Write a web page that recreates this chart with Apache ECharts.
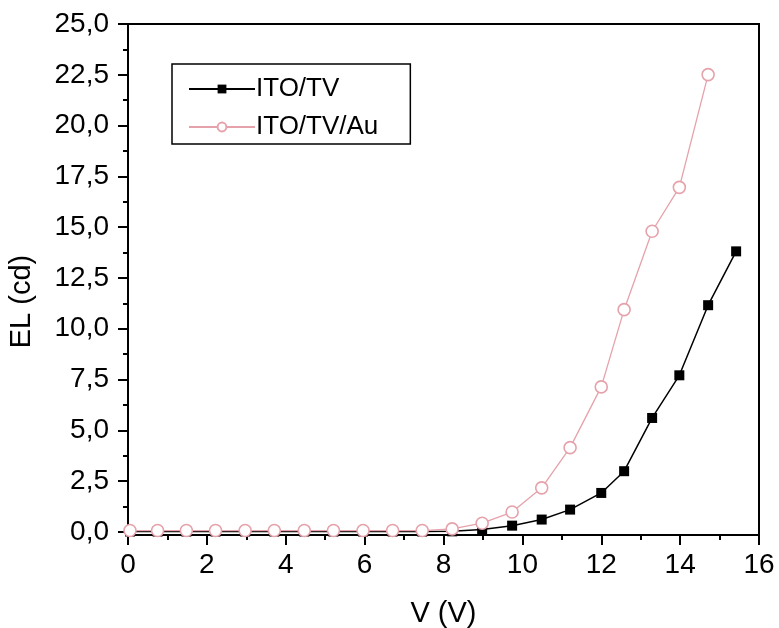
<!DOCTYPE html>
<html>
<head>
<meta charset="utf-8">
<script src="https://cdn.jsdelivr.net/npm/echarts@6/dist/echarts.min.js"></script>
<style>html,body{margin:0;padding:0;background:#fff}#c{width:779px;height:628px}</style>
</head>
<body>
<div id="c"></div>
<script>
// Data
const seriesNames = ['ITO/TV', 'ITO/TV/Au'];
const vTV = [0.05, 0.75, 1.48, 2.22, 2.97, 3.71, 4.47, 5.21, 5.96, 6.71, 7.46, 8.22, 8.98, 9.74, 10.49, 11.21, 12.0, 12.58, 13.29, 13.98, 14.71, 15.42];
const elTV = [0.02, 0.02, 0.02, 0.02, 0.02, 0.02, 0.02, 0.02, 0.02, 0.02, 0.02, 0.03, 0.12, 0.31, 0.61, 1.10, 1.92, 2.99, 5.61, 7.71, 11.16, 13.81];
const vAu = [0.05, 0.75, 1.48, 2.22, 2.97, 3.71, 4.47, 5.21, 5.96, 6.71, 7.46, 8.22, 8.98, 9.74, 10.49, 11.21, 12.0, 12.58, 13.29, 13.98, 14.71];
const elAu = [0.07, 0.07, 0.07, 0.07, 0.07, 0.07, 0.07, 0.07, 0.07, 0.07, 0.07, 0.15, 0.43, 0.98, 2.17, 4.15, 7.14, 10.94, 14.80, 16.96, 22.51];
const yMajorTicks = [0, 2.5, 5, 7.5, 10, 12.5, 15, 17.5, 20, 22.5, 25];
const yMinorTicks = [1.25, 3.75, 6.25, 8.75, 11.25, 13.75, 16.25, 18.75, 21.25, 23.75];
const xTitle = 'V (V)';
const yTitle = 'EL (cd)';

const FONT = "'Liberation Sans', Arial, sans-serif";
const pink = '#e6a2ab';

const pairs = (xs, ys) => xs.map((x, i) => [x, ys[i]]);

const chart = echarts.init(document.getElementById('c'));
chart.setOption({
  backgroundColor: '#fff',
  animation: false,
  grid: {
    left: 128, right: 20, top: 24, bottom: 93,
    containLabel: false,
    outerBoundsMode: 'none',
    show: true, borderColor: '#000', borderWidth: 2, backgroundColor: 'transparent'
  },
  legend: {
    left: 172, top: 64,
    orient: 'vertical',
    borderColor: '#000', borderWidth: 1.5,
    padding: [12, 32, 4, 16],
    itemGap: 12,
    itemWidth: 66, itemHeight: 11,
    textStyle: { fontFamily: FONT, fontSize: 26, color: '#000', padding: [0, 0, 0, -4] },
    data: seriesNames
  },
  xAxis: {
    type: 'value', min: 0, max: 16, interval: 2,
    name: xTitle, nameLocation: 'middle', nameGap: 64,
    nameTextStyle: { fontFamily: FONT, fontSize: 29, color: '#000' },
    axisLine: { onZero: false, lineStyle: { color: '#000', width: 2 } },
    axisTick: { inside: false, length: 10, lineStyle: { color: '#000', width: 2 } },
    minorTick: { show: true, splitNumber: 2, length: 5, lineStyle: { color: '#000', width: 2 } },
    axisLabel: { fontFamily: FONT, fontSize: 28, color: '#000', margin: 16 },
    splitLine: { show: false }
  },
  yAxis: [{
    type: 'value', min: -0.15, max: 25, position: 'left',
    name: yTitle, nameLocation: 'middle', nameGap: 92, nameRotate: 90,
    nameTextStyle: { fontFamily: FONT, fontSize: 29, color: '#000', padding: [0, 44, 0, 0] },
    axisLine: { onZero: false, lineStyle: { color: '#000', width: 2 } },
    axisTick: { inside: false, length: 10, customValues: yMajorTicks, lineStyle: { color: '#000', width: 2 } },
    axisLabel: {
      fontFamily: FONT, fontSize: 28, color: '#000', margin: 19,
      customValues: yMajorTicks,
      formatter: v => v.toFixed(1).replace('.', ',')
    },
    splitLine: { show: false }
  }, {
    type: 'value', min: -0.15, max: 25, position: 'left',
    axisLine: { show: false },
    axisTick: { inside: false, length: 5, customValues: yMinorTicks, lineStyle: { color: '#000', width: 2 } },
    axisLabel: { show: false, customValues: yMinorTicks },
    splitLine: { show: false }
  }],
  series: [{
    name: seriesNames[0], type: 'line', yAxisIndex: 0,
    data: pairs(vTV, elTV),
    symbol: 'rect', symbolSize: 10,
    lineStyle: { color: '#000', width: 1.5 },
    itemStyle: { color: '#000', borderColor: '#000', borderWidth: 0 },
    clip: false
  }, {
    name: seriesNames[1], type: 'line', yAxisIndex: 0,
    data: pairs(vAu, elAu),
    symbol: 'circle', symbolSize: 12,
    showAllSymbol: true,
    lineStyle: { color: pink, width: 1.3 },
    itemStyle: { color: '#fff', borderColor: pink, borderWidth: 1.6 },
    clip: false
  }]
});
</script>
</body>
</html>
